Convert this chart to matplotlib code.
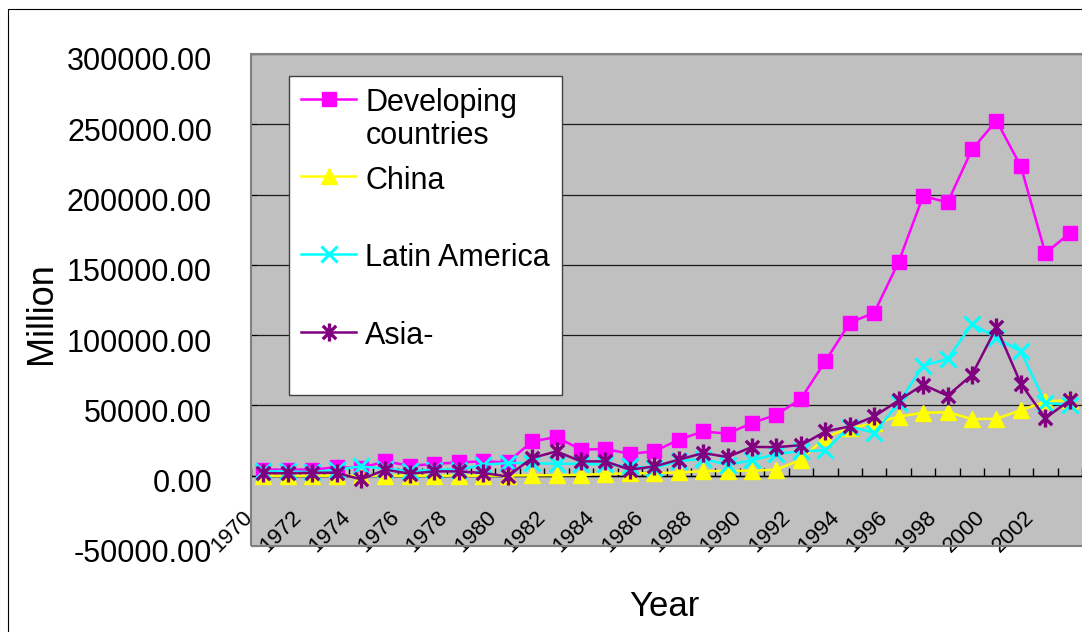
import numpy as np
import matplotlib
matplotlib.use('Agg')
import matplotlib.pyplot as plt
from matplotlib.path import Path
from matplotlib.patches import Rectangle
from matplotlib.ticker import FormatStrFormatter
from matplotlib.transforms import ScaledTranslation

# FDI inflows, million US$
years = list(range(1970, 2004))
developing = [4300, 4300, 4300, 6000, 5500, 10200, 7100, 8300, 9500, 10200,
              9500, 24400, 27500, 18500, 19000, 15600, 17300, 25600, 31500, 29900,
              37500, 43400, 54700, 81500, 108800, 116000, 152200, 199000, 194400, 232100,
              252600, 220000, 158200, 172600]
china = [0, 0, 0, 0, 0, 0, 0, 0, 0, 0,
         100, 300, 400, 600, 1300, 1700, 1900, 2300, 3200, 3400,
         3500, 4400, 11200, 27500, 33800, 37300, 42000, 44800, 45200, 40300,
         40500, 46600, 52800, 53800]
latin_america = [3100, 3100, 2500, 4300, 6600, 5000, 3100, 4300, 4300, 7800,
                 9000, 9000, 8500, 8500, 8000, 6600, 5500, 10500, 12000, 7800,
                 11000, 15500, 17500, 18000, 35000, 30600, 51800, 78300, 83000, 108100,
                 97900, 88400, 51700, 50500]
asia = [1900, 1700, 2100, 2100, -2600, 4300, 1400, 3100, 3100, 1900,
        -500, 12600, 17300, 10200, 10200, 4300, 6600, 11400, 16100, 13300,
        20500, 20300, 21700, 31500, 35100, 42200, 53600, 64700, 56900, 71800,
        105500, 65400, 41000, 53600]

plt.rcParams['font.family'] = ['Liberation Sans', 'DejaVu Sans']

fig = plt.figure(figsize=(10.82, 6.32), dpi=100)
ax = fig.add_axes([251/1082, 1 - 546/632, 1 - 251/1082, 492/632])
ax.set_facecolor('#C0C0C0')

x = np.arange(len(years))
# excel style star: an X with a vertical bar
star = Path([(-1, -1), (1, 1), (-1, 1), (1, -1), (0, -1.35), (0, 1.35)],
            [Path.MOVETO, Path.LINETO] * 3)

ax.plot(x, developing, color='#FF00FF', marker='s', ms=10.5, lw=1.8,
        label='Developing\ncountries', zorder=3)
ax.plot(x, china, color='#FFFF00', marker='^', ms=11, lw=1.8,
        label='China\n', zorder=3)
ax.plot(x, latin_america, color='#00FFFF', marker='x', ms=11, mew=2.2, lw=1.8,
        label='Latin America\n', zorder=3)
ax.plot(x, asia, color='#800080', marker=star, ms=13, mew=2.4, lw=1.8,
        label='Asia-\n', zorder=3)

ax.set_xlim(-0.5, len(years) - 0.5)
ax.set_ylim(-50000, 300000)
ax.set_yticks(np.arange(-50000, 300001, 50000))
ax.yaxis.set_major_formatter(FormatStrFormatter('%.2f'))
ax.tick_params(axis='y', direction='in', length=4, pad=28, labelsize=22)
ax.grid(axis='y', color='#1a1a1a', lw=0.9)
ax.set_axisbelow(True)

for s in ['top', 'right', 'left']:
    ax.spines[s].set_visible(False)
ax.spines['bottom'].set_position(('data', 0))
ax.spines['bottom'].set_color('black')
ax.spines['bottom'].set_linewidth(1)

ax.set_xticks(x[::2], [str(y) for y in years[::2]])
ax.set_xticks(np.arange(-0.5, len(years), 1), minor=True)
ax.tick_params(axis='x', which='major', length=0, pad=28, labelsize=16, labelrotation=45)
ax.tick_params(axis='x', which='minor', direction='in', length=6, width=1, color='black')

xoff = ScaledTranslation(-14/100, 0, fig.dpi_scale_trans)
for lab in ax.get_xticklabels():
    lab.set_ha('right')
    lab.set_va('center')
    lab.set_rotation_mode('anchor')
    lab.set_transform(lab.get_transform() + xoff)
yoff = ScaledTranslation(0, -5/100, fig.dpi_scale_trans)
for lab in ax.get_yticklabels():
    lab.set_transform(lab.get_transform() + yoff)

# plot area border
ax.add_patch(Rectangle((0, 0), 1.05, 1, transform=ax.transAxes, fill=False,
                       ec='#808080', lw=1.5, clip_on=False, zorder=2.6))

ax.set_ylabel('Million', fontsize=26)
ax.yaxis.set_label_coords((41 - 251)/831, (546 - 313)/492)
ax.yaxis.label.set_va('center')
ax.set_xlabel('Year', fontsize=25)
ax.xaxis.set_label_coords((664 - 251)/831, (546 - 606)/492)
ax.xaxis.label.set_va('center')

leg = ax.legend(loc='upper left', bbox_to_anchor=(38/831, 470/492), borderaxespad=0,
                fontsize=22, fancybox=False, framealpha=1, edgecolor='#404040',
                handlelength=1.8, handletextpad=0.3, borderpad=0.4, labelspacing=0.5)
leg.get_frame().set_linewidth(1)
for t in leg.get_texts():
    t.set_linespacing(1.1)
for col in leg._legend_handle_box.get_children():
    for item in col.get_children():
        item.align = 'top'

# outer chart border (cropped on the right and bottom)
fig.add_artist(Rectangle((8/1082, -0.05), 1.1, 1.05 - 9/632, transform=fig.transFigure,
                         fill=False, ec='black', lw=0.8))

fig.savefig('out.png', dpi=100)
